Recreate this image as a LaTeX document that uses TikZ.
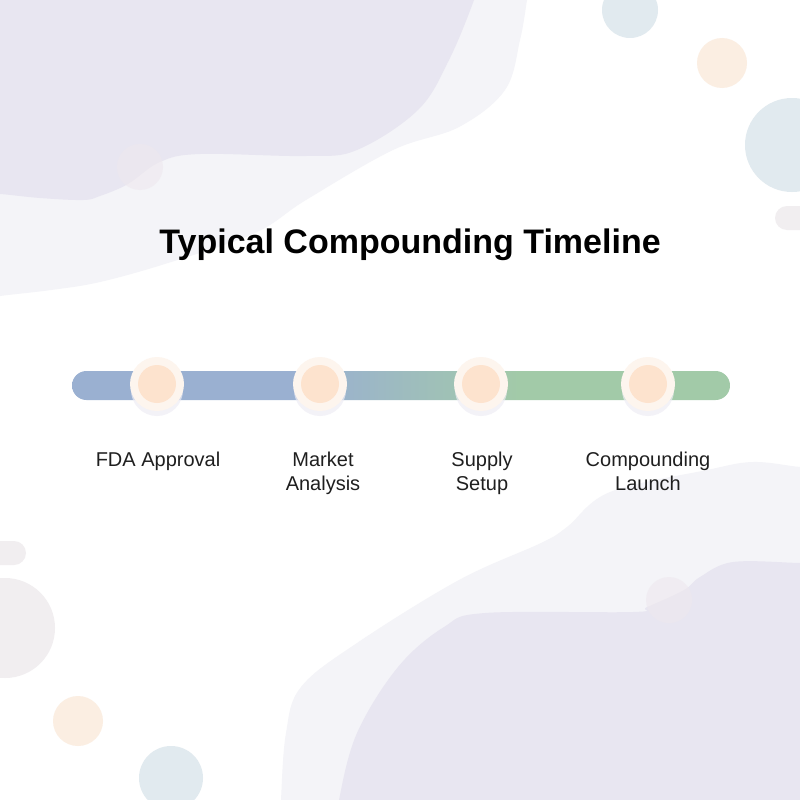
\documentclass[tikz,border=0pt]{standalone}
\usepackage{fontspec}
\setmainfont{Liberation Sans}
\definecolor{blobout}{HTML}{F4F4F8}
\definecolor{blobin}{HTML}{E8E6F1}
\definecolor{pinkc}{HTML}{EEE8EE}
\definecolor{bluec}{HTML}{E1EAEF}
\definecolor{peachc}{HTML}{FBEEE2}
\definecolor{greyc}{HTML}{F1EEF0}
\definecolor{barblue}{HTML}{9AB0D1}
\definecolor{bargreen}{HTML}{A2CAA8}
\definecolor{halo}{HTML}{FDF5EE}
\definecolor{dotc}{HTML}{FDE3CE}
\definecolor{shadowc}{HTML}{EEEDF5}
\pgfdeclarehorizontalshading{barshade}{100bp}{color(0bp)=(barblue); color(43bp)=(barblue); color(59bp)=(bargreen); color(100bp)=(bargreen)}
\tikzset{
  halonode/.style={circle, fill=halo, minimum size=54pt, inner sep=0pt},
  dotnode/.style={circle, fill=dotc, minimum size=38pt, inner sep=0pt},
  labelnode/.style={font=\fontsize{20pt}{24pt}\selectfont, align=center, text=black!88, anchor=base},
  titlenode/.style={font=\fontsize{34pt}{40pt}\selectfont\bfseries, text=black, anchor=base}
}
\begin{document}
\begin{tikzpicture}[x=1pt,y=-1pt]
\useasboundingbox (0,0) rectangle (800,800);
\begin{scope}
\clip (0,0) rectangle (800,800);
\fill[white] (0,0) rectangle (800,800);
% top-left blobs
\fill[blobout] plot[smooth, tension=0.6] coordinates {(-20,-20) (530,-20) (527,0) (520,40) (505,90) (459,127) (393,150) (306,200) (255,233) (168,263) (100,282) (51,290) (0,296) (-20,300)} -- cycle;
\fill[blobin] plot[smooth, tension=0.6] coordinates {(-20,-20) (478,-20) (474,0) (449,60) (418,110) (357,150) (306,156) (200,154) (160,162) (128,184) (100,196) (83,200) (40,198) (0,194) (-20,194)} -- cycle;
\fill[pinkc, opacity=0.6] (140,167) circle (23);
% bottom-right blobs
\fill[blobout] plot[smooth, tension=0.6] coordinates {(820,820) (820,467) (800,467) (753,462) (707,470) (610,492) (567,527) (541,543) (459,580) (357,643) (301,687) (286,733) (281,800) (281,820)} -- cycle;
\fill[blobin] plot[smooth, tension=0.6] coordinates {(820,820) (820,563) (800,563) (733,562) (700,577) (684,590) (647,607) (633,612) (485,613) (444,627) (398,667) (357,733) (339,800) (339,820)} -- cycle;
\fill[pinkc, opacity=0.6] (669,600) circle (23);
% decorative circles
\fill[bluec] (630,10) circle (28);
\fill[peachc] (722,63) circle (25);
\fill[bluec] (792,145) circle (47);
\fill[greyc, rounded corners=12pt] (775,206) rectangle (830,230);
\fill[greyc, rounded corners=12pt] (-30,541) rectangle (26,565);
\fill[greyc] (5,628) circle (50);
\fill[peachc] (78,721) circle (25);
\fill[bluec] (171,778) circle (32);
\end{scope}
% title
\node[titlenode] (title) at (410,253) {Typical Compounding Timeline};
% bar
\coordinate (barL) at (72,371);
\coordinate (barR) at (730,400);
\shade[shading=barshade] (barL) [rounded corners=14.5pt] rectangle (barR);
% milestones
\foreach \n/\x in {a/157, b/320, c/481, d/648} {
  \fill[shadowc, opacity=0.7] (\x,390) circle (26);
  \node[halonode] (h\n) at (\x,384) {};
  \node[dotnode] (d\n) at (\x,384) {};
}
\node[labelnode] (la) at (158,466) {FDA Approval};
\node[labelnode] (lb) at (323,490) {Market\\Analysis};
\node[labelnode] (lc) at (482,490) {Supply\\Setup};
\node[labelnode] (ld) at (648,490) {Compounding\\Launch};
\end{tikzpicture}
\end{document}
